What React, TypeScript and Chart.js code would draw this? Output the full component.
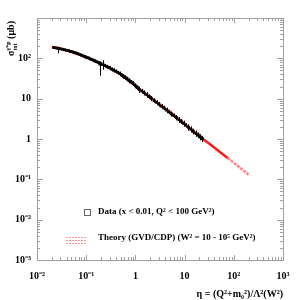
import React, { useEffect, useRef } from "react";
import { Chart, registerables } from "chart.js";
Chart.register(...registerables);

const dataEta = [0.022, 0.025, 0.027, 0.03, 0.033, 0.036, 0.04, 0.044, 0.048, 0.052, 0.057, 0.062, 0.068, 0.074, 0.08, 0.088, 0.095, 0.1, 0.11, 0.12, 0.13, 0.14, 0.15, 0.165, 0.18, 0.19, 0.2, 0.22, 0.24, 0.26, 0.28, 0.3, 0.33, 0.36, 0.4, 0.44, 0.48, 0.52, 0.57, 0.62, 0.68, 0.75, 0.82, 0.9, 1.0, 1.1, 1.2, 1.35, 1.5, 1.7, 1.9, 2.1, 2.4, 2.7, 3.0, 3.4, 3.8, 4.3, 4.8, 5.4, 6.0, 6.8, 7.6, 8.5, 9.5, 10.5, 12, 13.5, 15, 17, 19, 21, 23];
const dataSigma = [185, 180, 178, 172, 168, 164, 158, 155, 148, 146, 140, 136, 130, 124, 120, 114, 110, 106, 103, 97, 93, 90, 86, 82, 78, 72, 73, 70, 66, 63, 60, 58, 54, 51, 48, 45, 42, 39, 36, 34, 31, 28, 26, 24, 21, 19, 17, 15.5, 14, 12.5, 11.3, 10.2, 9, 8.1, 7.3, 6.5, 5.9, 5.2, 4.7, 4.2, 3.8, 3.4, 3.0, 2.75, 2.45, 2.2, 1.95, 1.75, 1.55, 1.38, 1.25, 1.12, 1.02];
const dataErrLo = [8, 10, 45, 6, 7, 6, 8, 6, 7, 6, 7, 6, 8, 6, 7, 6, 7, 6, 7, 6, 7, 5, 8, 6, 5, 35, 6, 18, 5, 6, 5, 6, 5, 6, 5, 4, 5, 4, 5, 4, 4, 4, 3, 3, 3, 2.5, 3, 2, 2, 2, 1.5, 1.5, 1.2, 1, 1, 0.9, 0.8, 0.8, 0.6, 0.6, 0.5, 0.5, 0.5, 0.4, 0.4, 0.3, 0.35, 0.3, 0.25, 0.25, 0.2, 0.2, 0.18];
const dataErrHi = [8, 10, 10, 6, 7, 6, 8, 6, 7, 6, 7, 6, 8, 6, 7, 6, 7, 6, 7, 6, 7, 5, 8, 6, 5, 12, 6, 20, 5, 6, 5, 6, 5, 6, 5, 4, 5, 4, 5, 4, 4, 4, 3, 3, 3, 2.5, 3, 2, 2, 2, 1.5, 1.5, 1.2, 1, 1, 0.9, 0.8, 0.8, 0.6, 0.6, 0.5, 0.5, 0.5, 0.4, 0.4, 0.3, 0.35, 0.3, 0.25, 0.25, 0.2, 0.2, 0.18];

const theoryEta = [0.02, 0.03, 0.05, 0.08, 0.12, 0.2, 0.3, 0.5, 0.8, 1.2, 2, 3, 5, 8, 13, 20, 33, 50, 75];
const theorySigma = [192, 172, 146, 118, 97, 73, 57, 40, 26, 17, 11, 7.4, 4.7, 2.95, 1.8, 1.15, 0.74, 0.5, 0.34];
const tailEta = [75, 130, 200];
const tailSigma = [0.34, 0.2, 0.13];

const xTickValues = [0.01, 0.1, 1, 10, 100, 1000];
const xTickLabels = ["10\u207B\u00B2", "10\u207B\u00B9", "1", "10", "10\u00B2", "10\u00B3"];
const yTickValues = [0.001, 0.01, 0.1, 1, 10, 100, 1000];
const yTickLabels = ["10\u207B\u00B3", "10\u207B\u00B2", "10\u207B\u00B9", "1", "10", "10\u00B2", ""];

const legendData = "Data (x < 0.01, Q\u00B2 < 100 GeV\u00B2)";
const legendTheory = "Theory (GVD/CDP) (W\u00B2 = 10 - 10\u2075 GeV\u00B2)";
const xTitle = "\u03B7 = (Q\u00B2+m\u2080\u00B2)/\u039B\u00B2(W\u00B2)";

const FRAME = "#a0a0a0";
const SERIF = "'Liberation Serif', 'Times New Roman', serif";

const framePlugin = {
  id: "frameTicks",
  afterDatasetsDraw(chart: any) {
    const ctx = chart.ctx;
    const a = chart.chartArea;
    const xs = chart.scales.x;
    const ys = chart.scales.y;
    // error bars
    ctx.save();
    ctx.strokeStyle = "#000";
    ctx.lineWidth = 1;
    for (let i = 0; i < dataEta.length; i++) {
      const px = Math.round(xs.getPixelForValue(dataEta[i])) + 0.5;
      const y1 = ys.getPixelForValue(dataSigma[i] - dataErrLo[i]);
      const y2 = ys.getPixelForValue(dataSigma[i] + dataErrHi[i]);
      ctx.beginPath();
      ctx.moveTo(px, y1);
      ctx.lineTo(px, y2);
      ctx.stroke();
    }
    ctx.restore();

    ctx.save();
    ctx.strokeStyle = FRAME;
    ctx.lineWidth = 1;
    ctx.strokeRect(Math.round(a.left) + 0.5, Math.round(a.top) + 0.5, Math.round(a.right - a.left), Math.round(a.bottom - a.top));
    ctx.beginPath();
    for (let d = -2; d < 3; d++) {
      for (let m = 1; m <= 9; m++) {
        const v = m * Math.pow(10, d);
        const px = Math.round(xs.getPixelForValue(v)) + 0.5;
        const len = m === 1 ? 5 : 3;
        ctx.moveTo(px, a.bottom);
        ctx.lineTo(px, a.bottom - len);
        ctx.moveTo(px, a.top);
        ctx.lineTo(px, a.top + len);
      }
    }
    for (let d = -3; d < 3; d++) {
      for (let m = 1; m <= 9; m++) {
        const v = m * Math.pow(10, d);
        const py = Math.round(ys.getPixelForValue(v)) + 0.5;
        const len = m === 1 ? 6 : 3;
        ctx.moveTo(a.left, py);
        ctx.lineTo(a.left + len, py);
        ctx.moveTo(a.right, py);
        ctx.lineTo(a.right - len, py);
      }
    }
    ctx.stroke();
    ctx.restore();

    // legend
    ctx.save();
    ctx.strokeStyle = "#666";
    ctx.lineWidth = 1;
    ctx.strokeRect(84.5, 209.5, 6, 6);
    ctx.strokeStyle = "rgba(255,80,80,0.6)";
    ctx.setLineDash([2, 1]);
    for (const yy of [237.5, 240.5, 243.5]) {
      ctx.beginPath();
      ctx.moveTo(66, yy);
      ctx.lineTo(87, yy);
      ctx.stroke();
    }
    ctx.setLineDash([]);
    ctx.fillStyle = "#000";
    ctx.font = "bold 9px " + SERIF;
    ctx.textBaseline = "middle";
    ctx.textAlign = "left";
    ctx.fillText(legendData, 98, 212);
    ctx.fillText(legendTheory, 98, 238);

    // y title
    ctx.translate(11, 56);
    ctx.rotate(-Math.PI / 2);
    ctx.textBaseline = "alphabetic";
    ctx.font = "bold 10px " + SERIF;
    let x = 0;
    ctx.fillText("\u03C3", x, 3);
    x += ctx.measureText("\u03C3").width;
    ctx.font = "bold 6px " + SERIF;
    ctx.fillText("tot", x, 6);
    ctx.fillText("\u03B3*p", x, -1);
    x += Math.max(ctx.measureText("tot").width, ctx.measureText("\u03B3*p").width);
    ctx.font = "bold 10px " + SERIF;
    ctx.fillText(" (\u03BCb)", x, 3);
    ctx.restore();
  },
};

export default function App() {
  const ref = useRef<HTMLCanvasElement>(null);
  useEffect(() => {
    if (!ref.current) return;
    const chart = new Chart(ref.current, {
      type: "scatter",
      data: {
        datasets: [
          {
            label: "Data",
            data: dataEta.map((e, i) => ({ x: e, y: dataSigma[i] })),
            backgroundColor: "#000",
            borderColor: "#000",
            pointStyle: "rect",
            pointRadius: 2,
            borderWidth: 0,
          },
          {
            label: "Theory",
            data: theoryEta.map((e, i) => ({ x: e, y: theorySigma[i] })),
            showLine: true,
            borderColor: "#ff1a1a",
            borderWidth: 2.5,
            pointRadius: 0,
          },
          {
            label: "Theory tail",
            data: tailEta.map((e, i) => ({ x: e, y: tailSigma[i] })),
            showLine: true,
            borderColor: "rgba(255,80,80,0.7)",
            borderWidth: 2.5,
            borderDash: [3, 1],
            pointRadius: 0,
          },
        ],
      },
      options: {
        animation: false,
        responsive: false,
        devicePixelRatio: 1,
        layout: { padding: { top: 18, right: 17, left: 0, bottom: 0 } },
        plugins: { legend: { display: false }, tooltip: { enabled: false } },
        scales: {
          x: {
            type: "logarithmic",
            min: 0.01,
            max: 1000,
            grid: { display: false, drawTicks: false },
            border: { display: false },
            afterBuildTicks: (s: any) => {
              s.ticks = xTickValues.map((v) => ({ value: v }));
            },
            afterFit: (s: any) => {
              s.height = 40;
            },
            ticks: {
              autoSkip: false,
              maxRotation: 0,
              padding: 10,
              color: "#000",
              font: { family: SERIF, size: 10, weight: "bold" },
              callback: (_v: any, i: number) => xTickLabels[i],
            },
            title: {
              display: true,
              text: xTitle,
              align: "end",
              color: "#000",
              padding: { top: 2, bottom: 0 },
              font: { family: SERIF, size: 10, weight: "bold" },
            },
          },
          y: {
            type: "logarithmic",
            min: 0.001,
            max: 1000,
            grid: { display: false, drawTicks: false },
            border: { display: false },
            afterBuildTicks: (s: any) => {
              s.ticks = yTickValues.map((v) => ({ value: v }));
            },
            afterFit: (s: any) => {
              s.width = 37;
            },
            ticks: {
              autoSkip: false,
              padding: 6,
              color: "#000",
              font: { family: SERIF, size: 10, weight: "bold" },
              callback: (_v: any, i: number) => yTickLabels[i],
            },
          },
        },
      },
      plugins: [framePlugin],
    } as any);
    return () => chart.destroy();
  }, []);
  return (
    <div style={{ position: "absolute", left: 0, top: 0, width: 300, height: 300, background: "#fff" }}>
      <canvas ref={ref} width={300} height={300} />
    </div>
  );
}
